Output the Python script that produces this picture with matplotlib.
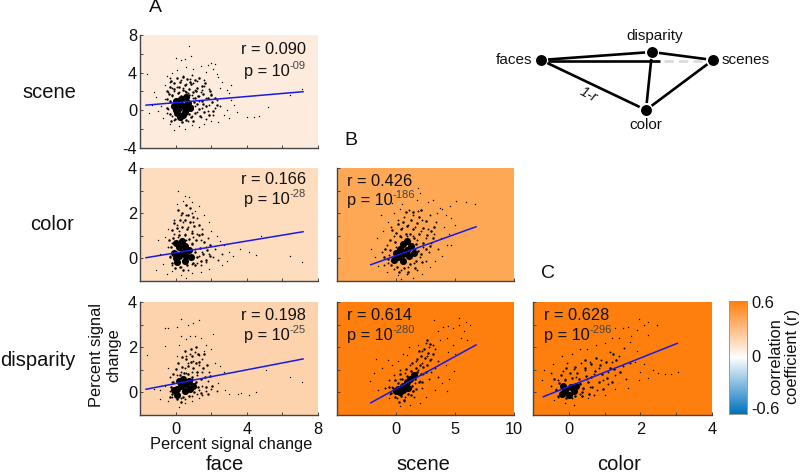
import matplotlib
matplotlib.use("Agg")
import matplotlib.pyplot as plt
import numpy as np
from matplotlib.colors import LinearSegmentedColormap

plt.rcParams['font.family'] = ['Liberation Sans', 'DejaVu Sans']

W, H = 800, 476

# ---------- values (representative points of each cloud) ----------
face_ticks = [-2, 0, 2, 4, 6, 8]
face_labels = ['', '0', '', '4', '', '8']
scene_ticks = [-5, 0, 5, 10]
scene_labels = ['', '0', '5', '10']
color_ticks = [-1, 0, 1, 2, 3, 4]
color_labels = ['', '0', '', '2', '', '4']

r_values = {'a1': 'r = 0.090', 'a2': 'r = 0.166', 'a3': 'r = 0.198',
            'b2': 'r = 0.426', 'b3': 'r = 0.614', 'c3': 'r = 0.628'}
p_exponents = {'a1': '-09', 'a2': '-28', 'a3': '-25', 'b2': '-186', 'b3': '-280', 'c3': '-296'}

fit_a1 = ([-1.66, 7.16], [0.55, 1.98])
fit_a2 = ([-1.66, 7.16], [0.03, 1.18])
fit_a3 = ([-1.66, 7.16], [0.14, 1.48])
fit_b2 = ([-2.14, 6.78], [-0.28, 1.40])
fit_b3 = ([-2.14, 6.78], [-0.46, 2.10])
fit_c3 = ([-0.71, 3.03], [-0.19, 2.17])

a1_core = [(0.2,0.2),(0.4,0.5),(0,0),(0.6,0.2),(0.2,0.8),(0.1,-0.3),(0.5,-0.2),(0.3,1.2),(0.7,0.8),(-0.1,0.5),(0.4,-0.5),(0.6,1.4),(0.05,1.0),(0.8,0.3),(0.25,-0.7)]
a1_halo = [(0.95,1.9),(1.1,1.35),(0.78,2.3),(0.42,2.15),(0.12,1.85),(-0.18,1.62),(-0.32,0.95),(1.22,0.72),(1.34,0.14),(1.08,-0.32),(0.86,-0.72),(0.58,-1.02),(-0.06,-0.92),(-0.31,-0.41),(-0.46,0.22),(1.48,1.02),(1.52,1.74),(1.21,2.36),(0.88,2.84),(0.51,2.72),(0.19,2.46),(-0.11,2.22),(-0.38,1.78),(-0.47,1.21),(1.72,0.41),(1.61,-0.22),(1.37,-0.58),(0.96,-1.18),(0.34,-1.24),(-0.24,-1.12),(1.83,1.28),(1.91,2.02),(1.46,2.62),(1.07,3.18),(0.63,3.31),(0.26,3.02),(-0.09,2.86),(-0.34,2.51),(-0.51,2.09),(2.05,0.88),(2.12,-0.04),(1.87,-0.46),(0.73,1.62),(1.02,0.92),(1.27,1.55),(0.56,1.92),(0.31,1.56),(1.55,0.62),(0.92,0.48),(0.74,-0.42),(1.16,2.04),(0.83,3.06),(1.33,3.42),(0.44,3.58),(1.66,2.94),(1.98,1.66),(-0.27,3.12),(0.07,3.44),(2.24,1.32),(2.31,0.58)]
a1_mid = [(0.9,1.6),(1.1,2.2),(0.5,2.1),(0.2,1.9),(-0.2,1.5),(-0.3,0.9),(1.3,1.0),(1.5,0.3),(1.2,-0.2),(0.9,-0.6),(0.3,-1.0),(-0.2,-0.6),(-0.4,0.1),(1.0,2.9),(0.6,2.8),(0.1,2.5),(-0.2,2.4),(1.4,1.9),(1.7,1.3),(1.6,2.6),(0.8,3.3),(0.3,3.2),(-0.3,3.0),(1.2,3.1),(1.9,0.6),(2.0,1.7),(1.8,-0.1),(1.4,-0.7),(0.7,-1.1),(-0.1,-1.0),(-0.5,-0.3),(0.9,0.1),(1.1,0.5),(1.3,1.5),(0.7,1.8),(1.0,1.3),(0.4,2.4),(1.5,2.2),(-0.1,2.0),(-0.4,1.9),(2.2,0.2),(2.3,1.1),(2.5,0.5),(1.9,2.3),(0.9,3.7),(0.4,3.6),(1.6,3.2),(-0.3,3.4),(2.1,-0.5),(1.7,-0.9)]
a1_far = [(0.75,6.83),(0.05,5.6),(0.3,5.3),(0.55,5.5),(0.85,5.8),(3.43,-0.14),(4.03,-0.67),(4.4,-0.74),(4.7,-0.56),(5.17,0.39),(7.1,2.23),(6.4,1.63),(-1.6,3.9),(-1.2,1.9),(-1.1,1.4),(-1.0,-0.1),(-0.7,-0.8),(-0.5,3.6),(-0.6,2.7),(2.0,5.0),(2.2,4.9),(1.8,4.8),(2.1,4.4),(1.4,4.7),(1.0,4.4),(0.6,4.6),(0.1,4.3),(-0.2,4.0),(2.4,3.5),(2.6,3.0),(2.5,2.4),(2.9,2.2),(3.0,1.8),(3.1,1.1),(3.3,0.6),(2.9,0.0),(2.7,-0.5),(2.4,-1.2),(1.3,-1.8),(0.9,-1.6),(0.5,-2.0),(0.2,-1.7),(-0.1,-2.1),(-0.3,-1.5),(1.6,-1.4),(2.0,-1.1),(3.0,-0.8),(3.1,2.7),(2.3,3.9),(1.7,4.1),(-0.6,1.2),(-0.8,0.5),(-1.3,0.6),(-1.5,-0.3)]

a2_core = [(0.2,0.1),(0.4,0.3),(0,0),(0.6,0.1),(0.2,0.5),(0.1,-0.15),(0.5,-0.1),(0.35,0.75),(0.75,0.35),(-0.1,0.25),(0.55,0.55),(0.05,0.7),(0.85,0.05)]
a2_halo = [(0.92,0.62),(1.08,0.28),(0.76,0.88),(0.51,1.02),(0.21,1.04),(-0.13,0.92),(-0.26,0.52),(-0.31,0.08),(-0.18,-0.22),(0.24,-0.36),(0.62,-0.31),(0.97,-0.19),(1.21,0.08),(1.36,0.46),(1.17,0.81),(0.94,1.12),(0.63,1.32),(0.38,1.41),(0.09,1.33),(-0.19,1.26),(-0.37,0.83),(1.54,0.18),(1.41,-0.12),(1.09,-0.31),(0.44,-0.52),(-0.06,-0.43),(1.58,0.72),(1.31,1.04),(1.06,1.42),(0.81,1.61),(0.52,1.72),(0.22,1.68),(-0.08,1.58),(1.76,0.36),(1.69,-0.08),(0.99,1.81),(0.71,1.94),(0.36,2.02),(1.33,1.46),(1.47,1.06),(1.91,0.11),(1.96,0.58),(0.11,2.12),(0.83,2.24),(0.58,2.38)]
a2_mid = [(0.9,0.7),(1.1,0.4),(0.5,1.1),(0.2,1.2),(-0.2,0.7),(-0.3,0.1),(1.3,0.1),(1.5,0.3),(1.2,-0.2),(0.9,-0.25),(0.3,-0.4),(-0.2,-0.3),(0.7,1.4),(0.4,1.6),(0.9,1.2),(1.0,1.6),(0.1,1.5),(-0.1,1.1),(1.4,0.8),(1.2,1.1),(1.7,0.5),(1.9,0.2),(0.6,1.9),(0.3,1.9),(0.9,2.0),(-0.1,1.7),(2.1,0.05),(2.2,0.4),(1.7,-0.15),(1.4,-0.3),(0.7,-0.5),(-0.4,0.5),(1.5,1.3),(1.2,1.8),(0.6,0.8),(1.0,0.95),(1.8,0.9),(0.15,0.95),(2.4,-0.05),(2.6,0.2)]
a2_far = [(0.15,3.0),(0.55,2.75),(0.75,2.7),(0.4,2.55),(0.9,2.5),(0.1,2.4),(1.3,2.3),(1.6,1.9),(1.9,1.6),(2.0,1.2),(2.3,1.0),(2.7,0.6),(3.0,0.3),(3.2,0.1),(3.6,0.4),(4.1,0.3),(4.5,0.15),(4.8,1.0),(5.1,0.95),(6.4,0.1),(7.1,-0.15),(-0.9,0.2),(-1.0,0.8),(-0.5,-0.7),(-0.2,-0.55),(0.3,-0.75),(0.6,-0.85),(0.9,-0.65),(1.4,-0.6),(1.9,-0.45),(2.6,-0.3),(-0.7,-0.25),(-1.1,-0.5),(1.1,2.1),(-0.4,1.3),(-0.6,0.95),(2.9,-0.1),(2.5,0.75)]

a3_core = [(0.1,0.15),(0.3,0.3),(-0.1,0.1),(0.5,0.05),(0.2,0.5),(0.1,-0.1),(0.6,0.35),(0.8,0.15),(0.4,0.6),(0.75,0.5),(1.0,0.3)]
a3_halo = [(1.12,0.48),(0.94,0.68),(0.72,0.81),(0.48,0.88),(0.22,0.78),(-0.14,0.48),(-0.28,0.22),(-0.22,-0.08),(0.06,-0.28),(0.42,-0.21),(0.74,-0.14),(1.06,0.02),(1.28,0.22),(1.41,0.58),(1.22,0.91),(0.98,1.08),(0.67,1.16),(0.36,1.12),(0.88,1.34),(1.12,1.28),(1.34,1.36),(1.52,1.08),(1.63,0.68),(1.72,0.26),(1.44,-0.02),(0.61,1.48),(0.94,1.62),(1.24,1.68),(0.54,1.82),(0.84,1.94),(1.17,2.02),(1.58,1.72),(1.78,1.22),(1.93,0.72),(2.05,0.28),(1.84,-0.08),(-0.16,0.82),(0.02,1.02),(0.28,-0.41),(-0.31,-0.21),(0.16,1.31),(0.38,1.58)]
a3_mid = [(0.9,0.6),(1.1,0.4),(0.6,0.85),(0.9,0.9),(1.2,0.75),(0.3,0.9),(-0.2,0.45),(-0.3,0.05),(1.3,0.1),(1.5,0.3),(1.2,-0.05),(0.9,-0.15),(0.3,-0.25),(-0.2,-0.2),(0.7,1.3),(1.0,1.4),(1.3,1.2),(1.5,0.9),(0.8,1.7),(1.1,1.8),(0.6,1.6),(1.5,1.5),(1.8,0.5),(2.0,0.15),(1.7,0.05),(1.9,0.9),(0.5,1.1),(1.3,1.65),(0.1,0.75),(-0.3,0.7),(0.5,-0.3),(1.5,-0.1),(2.3,0.05)]
a3_far = [(0.3,3.25),(1.3,3.2),(1.0,3.05),(0.7,3.0),(0.1,2.9),(-0.6,2.85),(-0.4,2.85),(0.8,2.5),(0.3,2.5),(0.6,2.35),(1.1,2.5),(1.4,2.4),(2.1,2.6),(1.7,2.1),(2.0,1.9),(-0.6,2.05),(-1.6,1.65),(1.6,1.85),(2.2,1.3),(2.5,1.15),(2.7,0.9),(2.4,0.4),(2.8,0.1),(3.0,-0.05),(3.5,-0.05),(3.7,-0.02),(4.1,-0.1),(4.5,0.0),(5.1,1.0),(6.4,0.7),(7.1,0.45),(-0.6,0.3),(-0.9,0.1),(-0.9,-0.3),(-0.4,-0.4),(0.2,-0.65),(0.5,-0.45),(0.9,-0.4),(1.3,-0.25),(-1.2,0.15),(-0.4,1.1),(0.1,1.6),(0.2,2.1)]

b2_core = [(0.2,0.05),(0.6,0.2),(0.9,0.35),(0.3,0.4),(1.1,0.1),(0.6,-0.1),(-0.2,-0.05),(1.3,0.55),(0.6,0.65),(1.5,0.25),(0.0,0.25),(0.95,0.75)]
b2_halo = [(1.72,0.62),(1.86,0.34),(1.54,0.92),(1.21,1.06),(0.82,1.08),(0.38,0.98),(-0.08,0.72),(-0.52,0.38),(-0.66,-0.02),(-0.42,-0.28),(0.12,-0.38),(0.68,-0.42),(1.22,-0.24),(1.72,-0.12),(2.12,0.18),(2.28,0.66),(1.98,1.08),(1.46,1.32),(0.96,1.42),(0.44,1.31),(-0.04,1.12),(-0.48,0.82),(-0.92,0.42),(2.52,0.42),(2.62,1.02),(2.31,1.36),(1.78,1.56),(1.24,1.72),(0.62,1.62),(0.16,1.52),(-0.32,1.24),(-1.04,0.06),(0.28,-0.62),(1.02,-0.62),(1.62,-0.42),(2.21,-0.18),(2.86,0.56),(2.94,1.22),(2.52,1.66),(1.96,1.84),(1.42,2.04),(0.84,2.06),(3.12,0.92),(3.24,1.38),(2.16,2.12)]
b2_mid = [(1.6,0.4),(1.8,0.8),(1.4,1.0),(0.9,1.0),(0.4,0.95),(0.0,0.5),(-0.6,0.15),(-0.7,-0.2),(-0.2,-0.45),(0.4,-0.5),(1.0,-0.4),(1.5,-0.2),(2.0,0.05),(2.3,0.5),(2.5,0.9),(2.1,1.2),(1.6,1.4),(1.0,1.5),(0.5,1.35),(-0.2,1.0),(-0.8,0.6),(2.8,0.3),(3.0,0.7),(2.7,1.3),(2.2,1.7),(1.4,1.9),(0.7,1.85),(0.2,1.7),(-0.4,1.4),(3.2,1.1),(3.4,1.6),(2.9,1.9),(-1.2,0.3),(0.9,-0.7),(1.8,-0.5),(1.1,2.15),(1.9,2.1),(2.5,-0.1),(3.6,0.4),(-1.0,-0.3)]
b2_far = [(1.9,3.1),(2.0,2.9),(1.8,2.6),(3.9,2.2),(4.6,2.3),(3.7,2.25),(5.1,2.55),(3.1,2.6),(2.7,2.5),(3.5,2.0),(4.2,1.9),(4.7,1.8),(5.0,1.5),(4.1,1.4),(4.5,1.1),(3.8,0.9),(4.3,0.6),(3.9,0.1),(4.7,0.6),(3.3,-0.1),(2.9,-0.4),(2.2,-0.7),(1.4,-0.85),(0.4,-0.9),(0.2,-0.75),(-0.8,-0.6),(-1.5,-0.35),(-1.8,0.05),(-2.1,0.4),(-1.6,0.9),(-1.1,1.2),(-0.7,1.6),(-0.2,2.0),(0.3,2.2),(-1.3,1.9),(-0.3,2.45),(0.5,2.4),(6.7,2.4),(5.9,2.5)]

b3_core = [(0.2,0.15),(0.6,0.3),(0.9,0.45),(0.3,0.0),(1.2,0.6),(0.0,0.05),(0.6,0.1),(1.5,0.75),(1.0,0.2)]
b3_halo = [(1.82,0.92),(1.64,0.58),(1.32,0.28),(0.92,0.72),(0.54,0.58),(0.16,0.42),(-0.24,0.18),(-0.42,-0.04),(-0.12,-0.22),(0.44,-0.18),(1.02,-0.08),(1.46,0.08),(1.92,0.44),(2.16,0.82),(2.02,1.22),(1.66,1.08),(1.28,0.94),(0.82,1.02),(0.34,0.82),(-0.12,0.54),(-0.62,0.22),(2.32,1.14),(2.46,1.52),(2.14,1.62),(1.78,1.46),(1.38,1.28),(2.62,1.22),(2.74,1.74),(2.38,1.94),(1.96,1.82),(2.58,0.92),(2.24,0.46),(1.72,0.16),(1.24,-0.12),(0.72,-0.32),(0.22,-0.42),(2.86,1.42),(2.92,2.12),(2.62,2.32),(3.12,1.72)]
b3_mid = [(1.5,0.8),(1.9,1.0),(1.6,0.4),(1.1,0.2),(0.8,0.85),(0.3,0.6),(-0.3,0.25),(-0.5,-0.05),(0.1,-0.25),(0.8,-0.2),(1.4,0.05),(2.0,0.5),(2.2,1.3),(2.6,1.6),(2.3,0.8),(1.7,1.4),(1.2,1.2),(2.8,2.0),(2.5,2.2),(3.0,1.5),(3.3,1.1),(2.8,0.6),(2.2,0.2),(1.5,-0.2),(0.3,1.0),(-0.2,0.75),(-0.9,0.2),(3.1,2.1),(3.3,1.9),(2.2,1.85),(3.0,0.9),(3.6,0.7),(0.7,-0.4),(-0.6,0.55),(3.6,1.4)]
b3_far = [(3.2,3.2),(5.3,3.3),(5.9,3.1),(6.3,3.0),(5.3,3.0),(4.0,2.9),(4.4,2.95),(4.8,2.85),(5.8,2.7),(3.6,2.7),(5.5,2.4),(6.0,2.3),(4.3,2.4),(3.7,2.3),(4.8,2.1),(5.0,1.7),(4.4,1.8),(4.2,1.2),(4.9,0.95),(4.5,0.6),(3.9,0.4),(4.3,0.05),(3.3,0.1),(2.5,-0.2),(2.0,-0.45),(1.2,-0.55),(0.3,-0.6),(-0.6,-0.25),(-1.2,-0.15),(-1.5,0.1),(-2.2,0.5),(-1.9,0.85),(-1.2,1.1),(-0.7,1.45),(-1.7,1.5),(0.2,1.4),(0.6,1.7),(1.1,2.0),(0.9,1.65),(-0.3,1.2),(1.9,2.1)]

c3_core = [(-0.1,0.1),(0.05,0.25),(-0.15,0.3),(0.15,0.05),(-0.2,-0.05),(0.0,-0.1),(0.2,0.3)]
c3_halo = [(0.32,0.38),(0.41,0.18),(0.28,0.58),(0.08,0.62),(-0.12,0.56),(-0.28,0.42),(-0.36,0.12),(-0.31,-0.14),(-0.08,-0.26),(0.18,-0.18),(0.36,0.02),(0.54,0.44),(0.48,0.72),(0.24,0.86),(0.02,0.84),(-0.22,0.76),(-0.42,0.58),(0.66,0.22),(0.62,0.68),(0.72,0.96),(0.44,1.06),(0.18,1.12),(-0.08,1.08),(0.84,0.48),(0.92,0.82),(0.88,1.22),(0.62,1.24),(0.36,-0.18),(0.56,-0.06),(0.96,0.16),(1.08,0.62),(1.14,1.08),(1.04,1.36),(0.76,1.52),(1.26,1.02),(1.32,1.42),(1.42,0.92),(1.22,0.44),(1.24,1.68),(0.46,1.42)]
c3_mid = [(0.3,0.4),(0.5,0.6),(0.4,0.15),(0.2,0.7),(-0.1,0.6),(-0.3,0.55),(-0.35,0.15),(-0.3,-0.2),(0.1,-0.25),(0.3,-0.05),(0.6,0.25),(0.7,0.8),(0.45,1.0),(0.15,1.05),(-0.15,0.95),(0.85,1.1),(0.95,0.55),(0.8,0.1),(1.1,0.9),(1.2,1.35),(0.9,1.45),(0.6,1.35),(1.3,0.75),(1.5,1.15),(1.4,1.6),(1.15,1.8),(1.6,0.6),(1.1,0.35),(-0.5,0.3),(-0.5,0.85),(1.7,1.3),(1.55,1.95),(0.35,1.3),(0.7,-0.1),(-0.05,1.3)]
c3_far = [(1.95,3.25),(2.2,3.1),(2.1,3.0),(2.45,3.0),(1.65,2.9),(1.5,2.85),(1.3,2.85),(1.9,2.75),(2.2,2.55),(1.75,2.5),(1.4,2.4),(1.2,2.4),(1.0,2.2),(0.75,2.1),(0.5,1.9),(1.7,2.25),(1.9,1.85),(1.85,1.35),(2.1,1.25),(2.0,0.9),(2.35,1.0),(2.2,0.65),(1.95,0.55),(2.5,0.85),(2.7,0.8),(2.85,0.8),(3.05,0.9),(1.65,0.2),(1.3,0.15),(1.0,-0.1),(0.55,-0.25),(0.15,-0.55),(-0.1,-0.45),(-0.4,-0.35),(-0.65,-0.1),(-0.75,0.55),(-0.7,1.0),(-0.45,1.25),(-0.2,1.6),(0.1,1.7),(0.3,1.9)]

colorbar_stops = ['#0072BD', '#FFFFFF', '#FF7F0E']
cbar_values = np.linspace(0.6, -0.6, 256).reshape(-1, 1)

node_names = ['faces', 'disparity', 'scenes', 'color']
node_x = [541, 652, 713, 646]
node_y = [60, 52, 60, 110]
edges_solid = [(0, 1), (1, 2), (0, 3), (1, 3), (3, 2)]

# ---------- drawing ----------
fig = plt.figure(figsize=(W / 100, H / 100), dpi=100)
renderer = fig.canvas.get_renderer()
cmap = LinearSegmentedColormap.from_list('rb', colorbar_stops)


def box(l, t, r, b):
    return [l / W, 1 - b / H, (r - l) / W, (b - t) / H]


def style(ax, bg, xlim, ylim, xt, yt):
    ax.set_facecolor(bg)
    ax.set_xlim(*xlim)
    ax.set_ylim(*ylim)
    ax.set_xticks(xt)
    ax.set_yticks(yt)
    ax.set_xticklabels([])
    ax.set_yticklabels([])
    for s in ('top', 'right'):
        ax.spines[s].set_visible(False)
    for s in ('left', 'bottom'):
        ax.spines[s].set_color('#444444')
        ax.spines[s].set_linewidth(1.0)
    ax.tick_params(direction='in', length=2.5, width=0.7, color='#444444',
                   labelsize=11.8, pad=2, labelcolor='#111111')


def clouds(ax, core, halo, mid, far, fit):
    for pts, size in ((far, 1.0), (mid, 1.8), (halo, 3.2), (core, 26)):
        xs, ys = zip(*pts)
        ax.scatter(xs, ys, s=size, c='black', linewidths=0, zorder=2)
    ax.plot(fit[0], fit[1], color='#1a1ae6', lw=1.1, zorder=3)


def stats(key, x_px, y1_px, y2_px, ha):
    fig.text(x_px / W, 1 - y1_px / H, r_values[key], fontsize=11.8, ha=ha, va='center', color='#111111')
    base = fig.text(x_px / W, 1 - (y2_px + 5) / H, 'p = 10', fontsize=11.8, ha='left', va='baseline', color='#111111')
    sup = fig.text(x_px / W, 1 - (y2_px - 2) / H, p_exponents[key], fontsize=8, ha='left', va='baseline', color='#444444')
    bw = base.get_window_extent(renderer).width
    sw = sup.get_window_extent(renderer).width
    start = x_px - (bw + sw) if ha == 'right' else x_px
    base.set_x(start / W)
    sup.set_x((start + bw) / W)


col1 = (140, 318)
col2 = (337, 514)
col3 = (533, 712)
row1 = (35, 148)
row2 = (168, 281)
row3 = (302, 415)

bg_a1 = '#FDEBDD'
bg_a2 = '#FDDDBE'
bg_a3 = '#FDD3AD'
bg_b2 = '#FEA856'
bg_b3 = '#FF7F0E'
bg_c3 = '#FF7F0E'

y_scene_ticks = [-4, -2, 0, 2, 4, 6, 8]
y_scene_labels = ['-4', '', '0', '', '4', '', '8']
y_ticks = [-1, 0, 1, 2, 3, 4]
y_labels = ['', '0', '', '2', '', '4']

a1 = fig.add_axes(box(col1[0], row1[0], col1[1], row1[1]))
style(a1, bg_a1, (-2, 8), (-4, 8), face_ticks, y_scene_ticks)
a1.set_yticklabels(y_scene_labels)
clouds(a1, a1_core, a1_halo, a1_mid, a1_far, fit_a1)

a2 = fig.add_axes(box(col1[0], row2[0], col1[1], row2[1]))
style(a2, bg_a2, (-2, 8), (-1, 4), face_ticks, y_ticks)
a2.set_yticklabels(y_labels)
clouds(a2, a2_core, a2_halo, a2_mid, a2_far, fit_a2)

a3 = fig.add_axes(box(col1[0], row3[0], col1[1], row3[1]))
style(a3, bg_a3, (-2, 8), (-1, 4), face_ticks, y_ticks)
a3.set_yticklabels(y_labels)
a3.set_xticklabels(face_labels)
clouds(a3, a3_core, a3_halo, a3_mid, a3_far, fit_a3)

b2 = fig.add_axes(box(col2[0], row2[0], col2[1], row2[1]))
style(b2, bg_b2, (-5, 10), (-1, 4), scene_ticks, y_ticks)
clouds(b2, b2_core, b2_halo, b2_mid, b2_far, fit_b2)

b3 = fig.add_axes(box(col2[0], row3[0], col2[1], row3[1]))
style(b3, bg_b3, (-5, 10), (-1, 4), scene_ticks, y_ticks)
b3.set_xticklabels(scene_labels)
clouds(b3, b3_core, b3_halo, b3_mid, b3_far, fit_b3)

c3 = fig.add_axes(box(col3[0], row3[0], col3[1], row3[1]))
style(c3, bg_c3, (-1, 4), (-1, 4), color_ticks, y_ticks)
c3.set_xticklabels(color_labels)
clouds(c3, c3_core, c3_halo, c3_mid, c3_far, fit_c3)

for a in (a3, b3, c3):
    a.tick_params(axis='x', pad=5)

stats('a1', 306, 50, 71, 'right')
stats('a2', 306, 179, 199, 'right')
stats('a3', 306, 315, 335, 'right')
stats('b2', 347, 181, 200, 'left')
stats('b3', 347, 315, 335, 'left')
stats('c3', 544, 315, 335, 'left')

# labels
for txt, x, y in (('A', 155, 8), ('B', 351, 140), ('C', 548, 274)):
    fig.text(x / W, 1 - y / H, txt, fontsize=14, ha='center', va='center', color='#111111')
for txt, x, y in (('scene', 49, 93), ('color', 52, 224), ('disparity', 38, 361),
                  ('face', 225, 465), ('scene', 423, 465), ('color', 619, 465)):
    fig.text(x / W, 1 - y / H, txt, fontsize=14.5, ha='center', va='center', color='#111111')
fig.text(231 / W, 1 - 444 / H, 'Percent signal change', fontsize=11.8, ha='center', va='center', color='#111111')
fig.text(105 / W, 1 - 355 / H, 'Percent signal\nchange', fontsize=11.8, rotation=90, ha='center',
         va='center', linespacing=1.15, multialignment='center', color='#111111')

# colour bar
cb = fig.add_axes(box(729, 301, 747, 414))
cb.imshow(cbar_values, aspect='auto', cmap=cmap, vmin=-0.6, vmax=0.6, extent=(0, 1, -0.6, 0.6))
cb.set_xticks([])
cb.set_yticks([])
for s in cb.spines.values():
    s.set_color('#999999')
    s.set_linewidth(0.7)
for txt, y in (('0.6', 304), ('0', 357), ('-0.6', 410)):
    fig.text(751 / W, 1 - y / H, txt, fontsize=11.8, ha='left', va='center', color='#111111')
fig.text(784 / W, 1 - 357 / H, 'correlation\ncoefficient (r)', fontsize=11.8, rotation=90, ha='center',
         va='center', linespacing=1.1, multialignment='center', color='#111111')

# network overlay in pixel space
net = fig.add_axes([0, 0, 1, 1], facecolor='none')
net.set_xlim(0, W)
net.set_ylim(H, 0)
net.axis('off')
for i, j in edges_solid:
    x0, y0, x1, y1 = node_x[i], node_y[i], node_x[j], node_y[j]
    g = 7 / np.hypot(x1 - x0, y1 - y0)
    net.plot([x0 + g * (x1 - x0), x1 - g * (x1 - x0)], [y0 + g * (y1 - y0), y1 - g * (y1 - y0)],
             color='black', lw=1.9, solid_capstyle='butt')
net.plot([node_x[0] + 7, 660], [node_y[0] + 1, node_y[2] + 1], color='black', lw=1.9, solid_capstyle='butt')
net.plot([664, node_x[2] - 6], [node_y[2] + 1, node_y[2] + 1], color='#d9d9d9', lw=1.9, ls=(0, (3.5, 2)))
net.scatter(node_x, node_y, s=62, c='black', linewidths=0, zorder=3)
net.text(532, 60, 'faces', fontsize=11, ha='right', va='center', color='#111111')
net.text(655, 36, 'disparity', fontsize=11, ha='center', va='center', color='#111111')
net.text(722, 60, 'scenes', fontsize=11, ha='left', va='center', color='#111111')
net.text(646, 125, 'color', fontsize=11, ha='center', va='center', color='#111111')
net.text(588, 95, '1-r', fontsize=10.5, style='italic', rotation=-28, ha='center', va='center', color='#111111')

fig.savefig('out.png', dpi=100)
